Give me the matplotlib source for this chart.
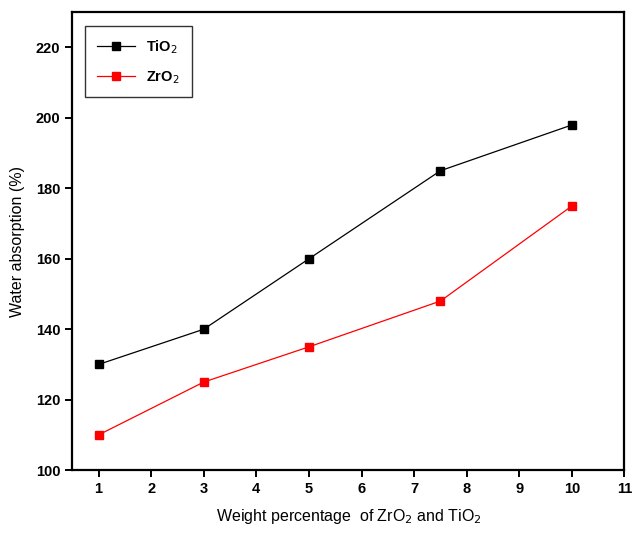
import matplotlib
matplotlib.use("Agg")
import matplotlib.pyplot as plt
import matplotlib.ticker as mticker

# Data
weight_pct = [1, 3, 5, 7.5, 10]
tio2 = [130, 140, 160, 185, 198]
zro2 = [110, 125, 135, 148, 175]

plt.rcParams.update({
    "font.family": ["Liberation Sans", "DejaVu Sans"],
    "axes.linewidth": 1.6,
    "xtick.direction": "out",
    "ytick.direction": "out",
    "xtick.major.size": 5,
    "ytick.major.size": 5,
    "xtick.major.width": 1.4,
    "ytick.major.width": 1.4,
})

fig = plt.figure(figsize=(6.34, 5.33), dpi=100)
ax = fig.add_axes([0.114, 0.118, 0.871, 0.859])

ax.plot(weight_pct, tio2, color="black", linewidth=0.9, marker="s",
        markersize=6, label=r"TiO$_2$")
ax.plot(weight_pct, zro2, color="red", linewidth=0.9, marker="s",
        markersize=6, label=r"ZrO$_2$")

ax.set_xlim(0.5, 11)
ax.set_ylim(100, 230)
ax.yaxis.set_major_locator(mticker.MultipleLocator(20))
ax.set_xticks(range(1, 12))
for lab in ax.get_xticklabels() + ax.get_yticklabels():
    lab.set_fontweight("bold")
    lab.set_fontsize(10.5)

ax.set_xlabel(r"Weight percentage  of ZrO$_2$ and TiO$_2$", fontsize=11.5,
              labelpad=8)
ax.set_ylabel("Water absorption (%)", fontsize=11.5, labelpad=8)

leg = ax.legend(loc="upper left", fontsize=10.5, frameon=True, fancybox=False,
                edgecolor="black", handlelength=2.6, borderpad=0.8,
                labelspacing=0.9, bbox_to_anchor=(0.01, 0.985))
leg.get_frame().set_linewidth(1.0)
for t in leg.get_texts():
    t.set_fontweight("bold")

fig.savefig("out.png", dpi=100)
